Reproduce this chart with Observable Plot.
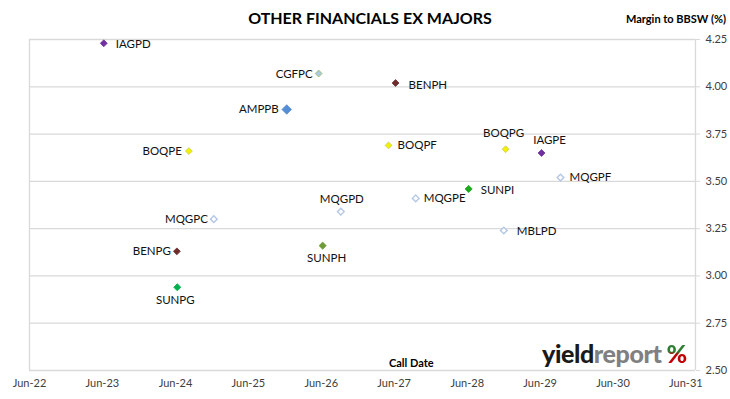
<!DOCTYPE html>
<html>
<head>
<meta charset="utf-8">
<script src="https://cdn.jsdelivr.net/npm/d3@7"></script>
<script src="https://cdn.jsdelivr.net/npm/@observablehq/plot@0.6"></script>
<style>
  html, body { margin: 0; padding: 0; background: #fff; }
  #wrap { position: relative; width: 730px; height: 399px; font-family: Lato, "Open Sans", sans-serif; }
  #wrap svg { position: absolute; left: 0; top: 0; }
  .ov { position: absolute; white-space: nowrap; line-height: 1; color: #000; }
  #title { left: 0; width: 740px; text-align: center; top: 10px; font-size: 16px; font-weight: 700; }
  #ylab { right: 4px; top: 13px; font-size: 11px; font-weight: 700; }
  #xlab { left: 389px; top: 357px; font-size: 11px; font-weight: 700; }
  #wm { left: 542px; top: 341px; font-size: 25px; font-weight: 900; letter-spacing: -0.4px; }
  #wm .a { color: #1a1a1a; }
  #wm .b { color: #808080; }
  #wm .c { margin-left: 5px; background: linear-gradient(to bottom, #2e7d32 0%, #2e7d32 45%, #c00000 55%, #c00000 100%); -webkit-background-clip: text; background-clip: text; color: transparent; }
</style>
</head>
<body>
<div id="wrap">
  <div class="ov" id="title">OTHER FINANCIALS EX MAJORS</div>
  <div class="ov" id="ylab">Margin to BBSW (%)</div>
  <div class="ov" id="xlab">Call Date</div>
  <div class="ov" id="wm"><span class="a">yield</span><span class="b">report</span><span class="c">%</span></div>
</div>
<script>
// ---- data ----
const names = ["IAGPD","CGFPC","BENPH","AMPPB","BOQPE","BOQPF","BOQPG","IAGPE","MQGPF","SUNPI","MQGPE","MQGPD","MQGPC","SUNPH","BENPG","SUNPG","MBLPD"];
const callDates = ["2023-06-08","2026-05-19","2027-06-08","2025-12-10","2024-08-07","2027-05-04","2028-12-10","2029-06-08","2029-09-11","2028-06-08","2027-09-17","2026-09-07","2024-12-10","2026-06-08","2024-06-08","2024-06-10","2028-12-01"];
const margins = [4.23,4.07,4.02,3.88,3.66,3.69,3.67,3.65,3.52,3.46,3.41,3.34,3.30,3.16,3.13,2.94,3.24];
const yTicks = [2.50,2.75,3.00,3.25,3.50,3.75,4.00,4.25];
const xTickDates = ["2022-06-01","2023-06-01","2024-06-01","2025-06-01","2026-06-01","2027-06-01","2028-06-01","2029-06-01","2030-06-01","2031-06-01"];
const xDomain = ["2022-06-01","2031-07-19"];

// ---- styles (marker look and label placement) ----
const purple = {fill:"#7030A0", stroke:"#7030A0", r:3.1};
const maroon = {fill:"#6E2C2C", stroke:"#6E2C2C", r:3.1};
const yellow = {fill:"#F2F200", stroke:"#C8C860", r:3.1};
const hollow = {fill:"white", stroke:"#B4C7E7", r:3.0};
const markerStyle = {
  IAGPD: purple, IAGPE: purple,
  BENPH: maroon, BENPG: maroon,
  BOQPE: yellow, BOQPF: yellow, BOQPG: yellow,
  MQGPF: hollow, MQGPE: hollow, MQGPD: hollow, MQGPC: hollow, MBLPD: hollow,
  CGFPC: {fill:"#A9C8E6", stroke:"#9BBB59", r:3.1},
  AMPPB: {fill:"#558ED5", stroke:"#558ED5", r:4.3},
  SUNPI: {fill:"#1BAA1B", stroke:"#1BAA1B", r:3.2},
  SUNPH: {fill:"#6E9A3A", stroke:"#6E9A3A", r:3.2},
  SUNPG: {fill:"#00B050", stroke:"#00B050", r:3.2}
};
// [textAnchor, dx, dy]
const labelPlace = {
  IAGPD: ["start", 12, 1], CGFPC: ["end", -6, 1], BENPH: ["start", 13, 2], AMPPB: ["end", -8, 0],
  BOQPE: ["end", -7, 0], BOQPF: ["start", 9, 0], BOQPG: ["middle", -2, -16], IAGPE: ["middle", 8, -13],
  MQGPF: ["start", 9, 0], SUNPI: ["start", 12, 1], MQGPE: ["start", 8, 0], MQGPD: ["middle", 1, -12],
  MQGPC: ["end", -6, 0], SUNPH: ["middle", 4, 13], BENPG: ["end", -6, 0], SUNPG: ["middle", -2, 13],
  MBLPD: ["start", 13, 1]
};

const rows = names.map((n, i) => ({name: n, date: new Date(callDates[i]), margin: margins[i]}));
const fmtX = d3.utcFormat("%b-%y");
const grid = "#D9D9D9";
const txt = "#404040";

const marks = [
  Plot.ruleY(yTicks, {y: d => d, stroke: grid, strokeWidth: 1.3}),
  Plot.ruleX(xDomain.map(d => new Date(d)), {x: d => d, stroke: grid, strokeWidth: 1.3}),
  Plot.axisY({anchor: "right", ticks: yTicks, tickFormat: d3.format(".2f"), tickSize: 4, tickPadding: 6, stroke: grid, fill: txt, fontSize: 11, label: null}),
  Plot.axisX({ticks: xTickDates.map(d => new Date(d)), tickFormat: fmtX, tickSize: 0, tickPadding: 9, fill: txt, fontSize: 11, label: null})
];
for (const r of rows) {
  const s = markerStyle[r.name];
  marks.push(Plot.dot([r], {x: "date", y: "margin", symbol: "diamond2", r: s.r, fill: s.fill, stroke: s.stroke, strokeWidth: s.fill === "white" ? 1.4 : 0.8}));
}
for (const r of rows) {
  const [ta, dx, dy] = labelPlace[r.name];
  marks.push(Plot.text([r], {x: "date", y: "margin", text: "name", textAnchor: ta, dx, dy, fontSize: 11.5, fill: "#111"}));
}

const chart = Plot.plot({
  width: 730,
  height: 399,
  marginLeft: 29,
  marginRight: 35,
  marginTop: 39,
  marginBottom: 29,
  style: {fontFamily: "Lato, 'Open Sans', sans-serif", background: "transparent"},
  x: {type: "utc", domain: xDomain.map(d => new Date(d))},
  y: {domain: [2.5, 4.25]},
  marks
});
document.getElementById("wrap").insertBefore(chart, document.getElementById("wrap").firstChild);
</script>
</body>
</html>
